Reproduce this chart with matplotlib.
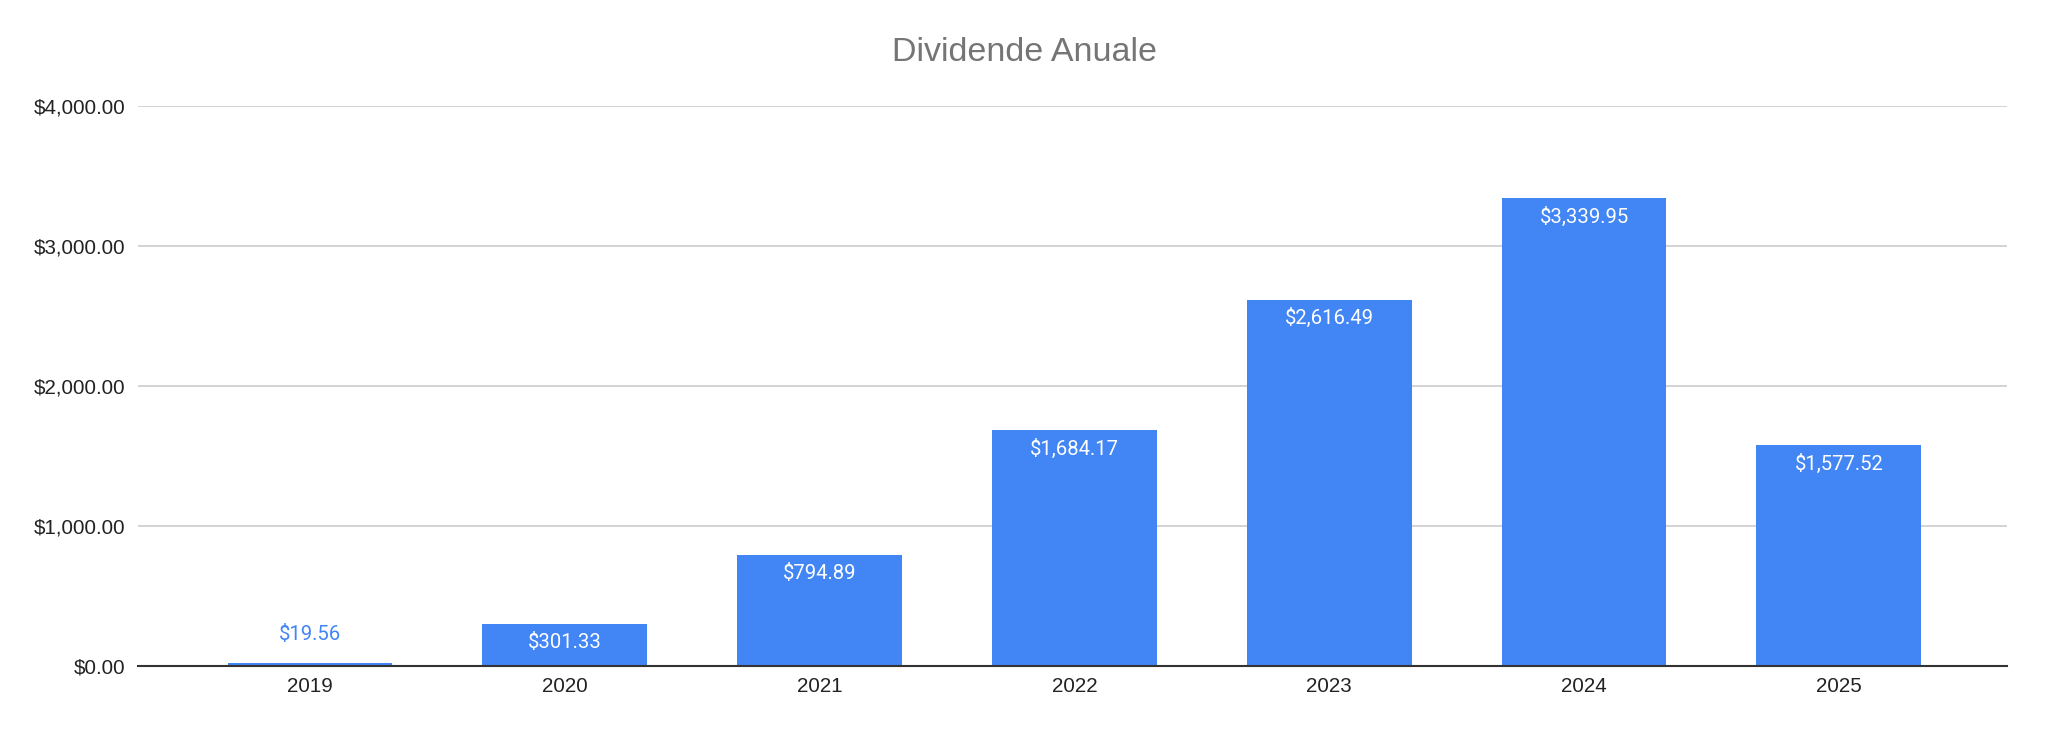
import numpy as np
import matplotlib
matplotlib.use('Agg')
import matplotlib.pyplot as plt
from matplotlib.ticker import FuncFormatter

# data
years = ['2019', '2020', '2021', '2022', '2023', '2024', '2025']
dividends = [19.56, 301.33, 794.89, 1684.17, 2616.49, 3339.95, 1577.52]
y_ticks = [0, 1000, 2000, 3000, 4000]

bar_color = '#4285F4'

fig = plt.figure(figsize=(20.48, 7.34), dpi=100)
ax = fig.add_axes([0.0674, 0.0925, 0.9126, 0.7635])

x = np.arange(len(years))
ax.bar(x, dividends, width=0.647, color=bar_color, zorder=3)

ax.set_xlim(-0.675, len(years) - 1 + 0.66)
ax.set_ylim(0, 4000)
ax.set_yticks(y_ticks)
ax.yaxis.set_major_formatter(FuncFormatter(lambda v, p: f'${v:,.2f}'))
ax.set_xticks(x)
ax.set_xticklabels(years)

# grid and spines
ax.grid(axis='y', color='#cccccc', linewidth=1.2, zorder=0)
for side in ['top', 'right', 'left']:
    ax.spines[side].set_visible(False)
ax.spines['bottom'].set_color('#333333')
ax.spines['bottom'].set_linewidth(1.5)
ax.spines['bottom'].set_zorder(4)
ax.tick_params(axis='both', length=0, labelsize=14.8, labelcolor='#222222')
ax.tick_params(axis='y', pad=9)
ax.tick_params(axis='x', pad=8)
for lbl in ax.get_xticklabels() + ax.get_yticklabels():
    lbl.set_family('Liberation Sans')

# value labels: inside the bar when it is tall enough, above otherwise
for xi, val in zip(x, dividends):
    text = f'${val:,.2f}'
    if val > 200:
        ax.annotate(text, (xi, val), xytext=(0, -13.5), textcoords='offset points',
                    ha='center', va='center', color='white', fontsize=14.6,
                    family='Roboto', zorder=5)
    else:
        ax.annotate(text, (xi, val), xytext=(0, 21), textcoords='offset points',
                    ha='center', va='center', color=bar_color, fontsize=14.6,
                    family='Roboto', zorder=5)

fig.text(0.5, 0.929, 'Dividende Anuale', ha='center', va='center',
         fontsize=24.5, color='#757575', family='Liberation Sans')

fig.savefig('out.png', dpi=100, facecolor='white')
